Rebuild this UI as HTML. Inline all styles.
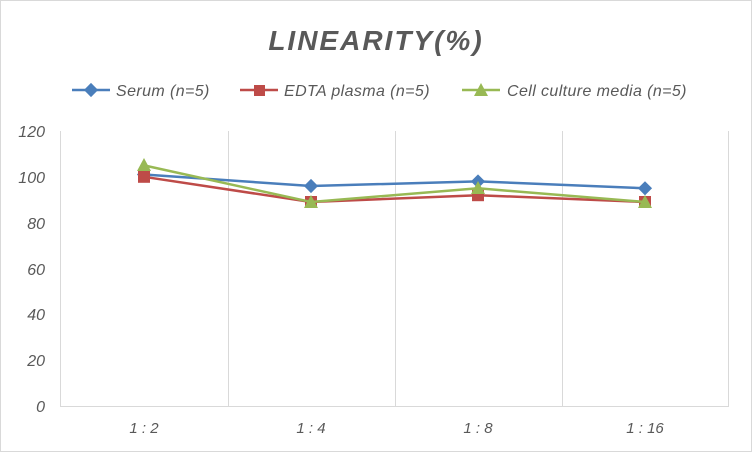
<!DOCTYPE html>
<html><head><meta charset="utf-8"><style>
body{margin:0;background:#fff}
svg{display:block;font-family:"Liberation Sans",sans-serif}
</style></head><body>
<svg width="752" height="452" viewBox="0 0 752 452">
<rect x="0.5" y="0.5" width="751" height="451" fill="#fff" stroke="#d9d9d9"/>
<text x="376" y="50" text-anchor="middle" font-size="28" font-weight="bold" font-style="italic" fill="#595959" letter-spacing="2">LINEARITY(%)</text>
<g font-size="16" font-style="italic" fill="#595959" letter-spacing="0.4">
<line x1="72" y1="90" x2="110" y2="90" stroke="#4a7ebb" stroke-width="2.5"/><rect x="86" y="85" width="10" height="10" fill="#4a7ebb" transform="rotate(45 91 90)"/>
<text x="116" y="96">Serum (n=5)</text>
<line x1="240" y1="90" x2="278" y2="90" stroke="#be4b48" stroke-width="2.5"/><rect x="254" y="85" width="11" height="11" fill="#be4b48"/>
<text x="284" y="96">EDTA plasma (n=5)</text>
<line x1="462" y1="90" x2="500" y2="90" stroke="#98b954" stroke-width="2.5"/><polygon points="481,83 488,96 474,96" fill="#98b954"/>
<text x="507" y="96">Cell culture media (n=5)</text>
</g>
<g stroke="#d9d9d9" stroke-width="1">
<line x1="60.5" y1="131" x2="60.5" y2="406"/>
<line x1="228.5" y1="131" x2="228.5" y2="406"/>
<line x1="395.5" y1="131" x2="395.5" y2="406"/>
<line x1="562.5" y1="131" x2="562.5" y2="406"/>
<line x1="728.5" y1="131" x2="728.5" y2="406"/>
<line x1="60" y1="406.5" x2="729" y2="406.5"/>
</g>
<g font-size="16" font-style="italic" fill="#595959" text-anchor="end">
<text x="45" y="137">120</text><text x="45" y="183">100</text><text x="45" y="229">80</text><text x="45" y="275">60</text><text x="45" y="320">40</text><text x="45" y="366">20</text><text x="45" y="412">0</text>
</g>
<g font-size="15" font-style="italic" fill="#595959" text-anchor="middle" xml:space="preserve">
<text x="144" y="433">1 : 2</text><text x="311" y="433">1 : 4</text><text x="478" y="433">1 : 8</text><text x="645" y="433">1 : 16</text>
</g>
<polyline points="144,174.5 311,186 478,181.4 645,188.3" fill="none" stroke="#4a7ebb" stroke-width="2.5"/>
<g fill="#4a7ebb">
<rect x="139" y="169.5" width="10" height="10" transform="rotate(45 144 174.5)"/>
<rect x="306" y="181" width="10" height="10" transform="rotate(45 311 186)"/>
<rect x="473" y="176.4" width="10" height="10" transform="rotate(45 478 181.4)"/>
<rect x="640" y="183.3" width="10" height="10" transform="rotate(45 645 188.3)"/>
</g>
<polyline points="144,176.8 311,202 478,195.2 645,202" fill="none" stroke="#be4b48" stroke-width="2.5"/>
<g fill="#be4b48">
<rect x="138" y="170.8" width="12" height="12"/><rect x="305" y="196" width="12" height="12"/><rect x="472" y="189.2" width="12" height="12"/><rect x="639" y="196" width="12" height="12"/>
</g>
<polyline points="144,165.4 311,202 478,188.3 645,202" fill="none" stroke="#98b954" stroke-width="2.5"/>
<g fill="#98b954">
<polygon points="144,158 151,171 137,171"/><polygon points="311,195 318,208 304,208"/><polygon points="478,181 485,194 471,194"/><polygon points="645,195 652,208 638,208"/>
</g>
</svg>
</body></html>
